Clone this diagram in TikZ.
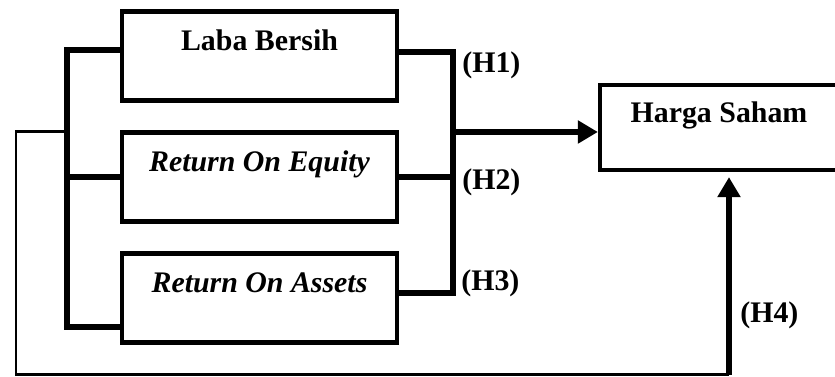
\documentclass[tikz,border=0pt]{standalone}
\usepackage{fontspec}
\setmainfont{Liberation Serif}
\usetikzlibrary{arrows.meta,positioning,calc}

\begin{document}
\begin{tikzpicture}[
    node distance=0.54cm,
    >={Triangle[length=0.4cm,width=0.44cm]},
    every node/.style={font=\fontsize{17}{20}\selectfont\bfseries},
    varbox/.style={rectangle, draw, line width=2.8pt, minimum width=5.5cm, minimum height=1.78cm, text height=0.6cm, text depth=0.8cm, inner sep=0pt},
    hargabox/.style={varbox, line width=2.4pt, minimum width=4.76cm, minimum height=1.7cm},
    link/.style={line width=3.4pt},
    loopline/.style={line width=1.7pt},
    hyp/.style={anchor=west, inner sep=0pt}
]

    \useasboundingbox (0,0) rectangle (16.7,7.54);

    \node (laba) [varbox] at (5.19,6.42) {Laba Bersih};
    \node (roe) [varbox, below=of laba] {\itshape Return On Equity};
    \node (roa) [varbox, below=of roe] {\itshape Return On Assets};
    \node (harga) [hargabox] at (14.38,4.99) {Harga Saham};

    \coordinate (ltop) at ($(laba.west)+(-1.05,0.12)$);
    \coordinate (lbot) at ($(roa.west)+(-1.05,-0.58)$);
    \coordinate (rtop) at ($(laba.east)+(1.07,0.08)$);
    \coordinate (rbot) at ($(roa.east)+(1.07,0.1)$);
    \coordinate (rmid) at (9.06,4.90);
    \coordinate (ojoin) at (1.34,4.90);
    \coordinate (ocorner) at (0.32,0.04);
    \coordinate (h4foot) at (14.58,0.04);

    \draw[link] ([yshift=0.12cm]laba.west) -- (ltop) -- (lbot) -- ([yshift=-0.58cm]roa.west);
    \draw[link] (roe.west) -- (roe.west -| ltop);
    \draw[link] ([yshift=0.08cm]laba.east) -- (rtop) -- (rbot) -- ([yshift=0.1cm]roa.east);
    \draw[link] (roe.east) -- (roe.east -| rtop);
    \draw[link, ->] (rmid) -- (rmid -| harga.west);
    \draw[loopline] (ojoin) -| (ocorner) -- (h4foot);
    \draw[link, ->, shorten >=0.1cm] (h4foot) -- (h4foot |- harga.south);

    \node (h1) [hyp] at (9.24,6.24) {(H1)};
    \node (h2) [hyp] at (9.24,3.90) {(H2)};
    \node (h3) [hyp] at (9.22,1.88) {(H3)};
    \node (h4) [hyp] at (14.80,1.24) {(H4)};

\end{tikzpicture}
\end{document}
